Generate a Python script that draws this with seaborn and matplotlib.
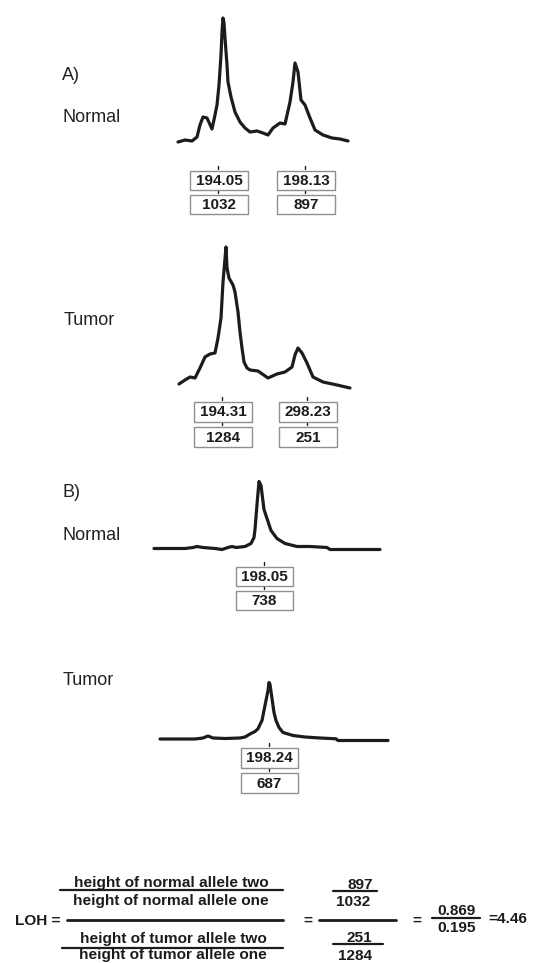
import matplotlib
matplotlib.use("Agg")
import matplotlib.pyplot as plt
from matplotlib.patches import Rectangle
import seaborn as sns
import pandas as pd

# electropherogram traces: scan position vs signal above baseline
a_normal_scan = [0, 7, 14, 19, 22, 25, 29, 34, 37, 39, 41, 43, 44, 45, 46, 47, 49, 50, 53, 57, 62, 67,
                 72, 79, 85, 90, 95, 102, 107, 112, 115, 117, 120, 123, 127, 132, 137, 145, 154, 162, 170]
a_normal_signal = [0, 2, 1, 5, 17, 25, 24, 13, 27, 37, 57, 87, 110, 124, 119, 104, 77, 60, 45, 30, 20, 14,
                   10, 11, 9, 7, 14, 19, 18, 40, 60, 79, 70, 42, 37, 24, 12, 7, 4, 3, 1]

a_tumor_scan = [0, 6, 11, 16, 21, 26, 31, 36, 39, 42, 44, 47, 48, 50, 54, 56, 59, 61, 63, 65, 68, 71,
                79, 89, 98, 106, 113, 116, 119, 123, 128, 134, 144, 158, 171]
a_tumor_signal = [4, 8, 11, 10, 20, 31, 34, 35, 50, 70, 106, 141, 120, 110, 103, 96, 76, 56, 40, 26, 20, 18,
                  17, 10, 14, 16, 21, 33, 40, 35, 25, 11, 6, 3, 0]

b_normal_scan = [0, 31, 39, 43, 49, 61, 68, 74, 78, 82, 91, 97, 100, 101, 103, 105, 107, 110, 117, 123,
                 131, 143, 156, 173, 176, 196, 226]
b_normal_signal = [1, 1, 2, 3, 2, 1, 0, 2, 3, 2, 3, 6, 12, 20, 45, 68, 64, 40, 19, 11,
                   6, 3, 3, 2, 0, 0, 0]

b_tumor_scan = [0, 35, 43, 48, 53, 65, 80, 85, 90, 95, 98, 100, 102, 105, 108, 109, 110, 112, 114, 116,
                119, 123, 133, 145, 160, 176, 178, 200, 228]
b_tumor_signal = [1.5, 1.5, 2.5, 4.5, 2.5, 2, 2.5, 3.5, 6.5, 9, 11.7, 16, 20, 35, 50, 58, 56, 42, 28, 20,
                  13, 8, 5, 3.5, 2.5, 1.7, 0, 0, 0]

# peak calls: size and height
a_normal_sizes = ["194.05", "198.13"]
a_normal_heights = ["1032", "897"]
a_tumor_sizes = ["194.31", "298.23"]
a_tumor_heights = ["1284", "251"]
b_normal_sizes = ["198.05"]
b_normal_heights = ["738"]
b_tumor_sizes = ["198.24"]
b_tumor_heights = ["687"]

loh_ratio = ["0.869", "0.195"]
loh_value = "=4.46"

W, H = 538, 963
INK = "#1c1c1c"

sns.set_theme(style="white")
plt.rcParams["font.family"] = ["Liberation Sans", "DejaVu Sans"]

fig = plt.figure(figsize=(W / 100, H / 100), dpi=100)
fig.patch.set_facecolor("white")

# overlay in pixel space for labels, boxes and the formula
ov = fig.add_axes([0, 0, 1, 1])
ov.set_xlim(0, W)
ov.set_ylim(H, 0)
ov.axis("off")
ov.patch.set_visible(False)


def trace(x0, base, scan, signal):
    w, h = max(scan), max(signal)
    ax = fig.add_axes([x0 / W, 1 - base / H, w / W, h / H])
    ax.set_xlim(0, w)
    ax.set_ylim(0, h)
    ax.axis("off")
    ax.patch.set_visible(False)
    df = pd.DataFrame({"scan": scan, "signal": signal})
    sns.lineplot(data=df, x="scan", y="signal", ax=ax, color=INK, linewidth=2.3,
                 estimator=None, sort=False)
    for ln in ax.lines:
        ln.set_clip_on(False)
        ln.set_solid_joinstyle("round")
        ln.set_solid_capstyle("round")


def peak_boxes(lefts, top, width, sizes, heights, bh=19, gap=5):
    for left, s, ht in zip(lefts, sizes, heights):
        for y, txt in [(top, s), (top + bh + gap, ht)]:
            ov.add_patch(Rectangle((left, y), width, bh, facecolor="white",
                                   edgecolor="#8f8f8f", linewidth=1.0))
            ov.text(left + width / 2, y + bh / 2 + 0.5, txt, ha="center", va="center",
                    fontsize=11, fontweight="bold", color=INK)
        cx = left + width / 2 - 1
        ov.plot([cx, cx], [top - 5, top - 2], color=INK, lw=1.0)
        ov.plot([cx, cx], [top + bh + 1, top + bh + 3.5], color=INK, lw=1.0)


trace(178, 142, a_normal_scan, a_normal_signal)
trace(179, 388, a_tumor_scan, a_tumor_signal)
trace(154, 549.5, b_normal_scan, b_normal_signal)
trace(160, 740.5, b_tumor_scan, b_tumor_signal)

peak_boxes([190, 277], 171, 58, a_normal_sizes, a_normal_heights)
peak_boxes([194, 279], 402, 58, a_tumor_sizes, a_tumor_heights, bh=20)
peak_boxes([236], 567, 57, b_normal_sizes, b_normal_heights)
peak_boxes([241], 748, 57, b_tumor_sizes, b_tumor_heights, bh=20)

# panel labels
for txt, x, y in [("A)", 62, 80), ("Normal", 63, 122), ("Tumor", 64, 325),
                  ("B)", 62, 497), ("Normal", 62, 540), ("Tumor", 63, 685)]:
    ov.text(x, y, txt, ha="left", va="baseline", fontsize=13, color="#222222")

# LOH formula
fs = 11.1
kw = dict(fontsize=fs, fontweight="bold", color=INK, va="baseline")
ov.text(15, 925, "LOH =", ha="left", **kw)
ov.text(171, 887.5, "height of normal allele two", ha="center", **kw)
ov.text(171, 905, "height of normal allele one", ha="center", **kw)
ov.text(173, 943.5, "height of tumor allele two", ha="center", **kw)
ov.text(173, 959.5, "height of tumor allele one", ha="center", **kw)
ov.plot([60, 283], [890, 890], color=INK, lw=1.6)
ov.plot([67, 283], [920, 920], color=INK, lw=2.0)
ov.plot([62, 283], [948, 948], color=INK, lw=1.6)

ov.text(308, 925, "=", ha="center", **kw)
ov.text(360, 889, a_normal_heights[1], ha="center", **kw)
ov.text(353, 906.5, a_normal_heights[0], ha="center", **kw)
ov.text(359, 941.5, a_tumor_heights[1], ha="center", **kw)
ov.text(355, 959.5, a_tumor_heights[0], ha="center", **kw)
ov.plot([333, 377], [890.7, 890.7], color=INK, lw=1.6)
ov.plot([319, 396], [920.5, 920.5], color=INK, lw=2.0)
ov.plot([333, 383], [944, 944], color=INK, lw=1.6)

ov.text(417, 924.5, "=", ha="center", **kw)
ov.text(456.5, 915, loh_ratio[0], ha="center", **kw)
ov.text(456.5, 931.5, loh_ratio[1], ha="center", **kw)
ov.plot([432, 480], [918.3, 918.3], color=INK, lw=1.6)
ov.text(488, 923.3, loh_value, ha="left", **kw)

fig.savefig("out.png", dpi=100, facecolor="white")
